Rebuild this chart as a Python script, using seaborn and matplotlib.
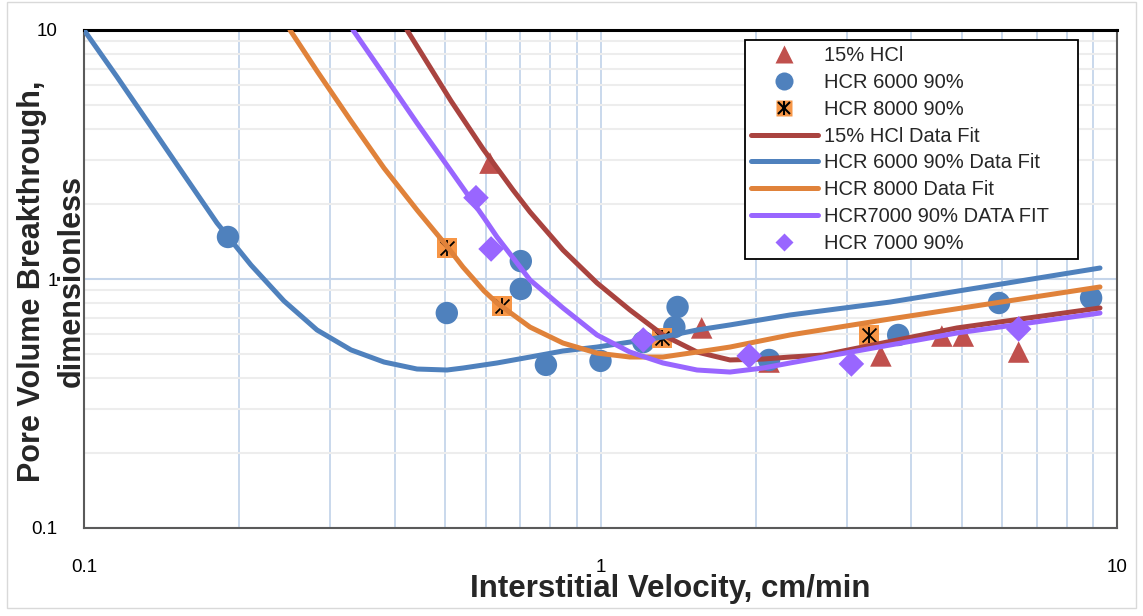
import numpy as np
import pandas as pd
import matplotlib
matplotlib.use("Agg")
import matplotlib.pyplot as plt
import seaborn as sns
from matplotlib.lines import Line2D
from matplotlib.patches import Rectangle
from matplotlib.ticker import FixedLocator, FixedFormatter, LogLocator, NullFormatter

sns.set_theme(style="white")
plt.rcParams['font.family'] = ['Liberation Sans', 'DejaVu Sans']

# ---------------- data ----------------
hcl_x = [0.611, 1.57, 2.12, 3.49, 4.58, 5.04, 6.45]
hcl_y = [2.92, 0.636, 0.464, 0.491, 0.590, 0.590, 0.509]

hcr6000_x = [0.190, 0.504, 0.701, 0.701, 0.784, 1.0, 1.21, 1.39, 1.41, 2.12, 3.77, 5.91, 8.91]
hcr6000_y = [1.475, 0.730, 1.18, 0.912, 0.452, 0.469, 0.558, 0.641, 0.772, 0.473, 0.596, 0.801, 0.839]

hcr8000_x = [0.504, 0.644, 1.316, 3.31]
hcr8000_y = [1.33, 0.779, 0.579, 0.596]

hcr7000_x = [0.574, 0.614, 1.21, 1.94, 3.06, 6.45]
hcr7000_y = [2.12, 1.32, 0.569, 0.491, 0.456, 0.630]

# fitted curves
fit_hcl_x = [0.422, 0.5135, 0.5926, 0.6770, 0.7304, 0.8461, 0.9845, 1.140, 1.321, 1.538, 1.781,
             2.064, 2.328, 2.697, 4.90, 9.27]
fit_hcl_y = [10.0, 5.19, 3.327, 2.278, 1.858, 1.307, 0.964, 0.751, 0.596, 0.509, 0.473,
             0.477, 0.486, 0.495, 0.636, 0.765]

fit_6000_x = [0.1, 0.1159, 0.1348, 0.1562, 0.1809, 0.2105, 0.2439, 0.2826, 0.3288, 0.3809, 0.4413,
              0.5045, 0.5416, 0.6304, 0.7304, 0.8461, 0.9845, 1.140, 1.321, 1.538, 1.781, 2.328,
              3.636, 9.27]
fit_6000_y = [10.0, 6.475, 4.097, 2.617, 1.679, 1.138, 0.816, 0.624, 0.519, 0.464, 0.435,
              0.431, 0.439, 0.460, 0.486, 0.514, 0.533, 0.558, 0.585, 0.624, 0.654, 0.717,
              0.808, 1.107]

fit_8000_x = [0.2505, 0.2826, 0.3288, 0.3809, 0.4413, 0.5022, 0.5416, 0.5952, 0.6304,
              0.7304, 0.8461, 0.9845, 1.140, 1.321, 1.538, 1.781, 2.328, 3.636, 9.27]
fit_8000_y = [10.0, 6.84, 4.31, 2.79, 1.893, 1.369, 1.117, 0.895, 0.801,
              0.641, 0.553, 0.504, 0.486, 0.486, 0.509, 0.533, 0.596, 0.691, 0.929]

fit_7000_x = [0.3317, 0.3809, 0.4413, 0.5135, 0.5952, 0.6304, 0.7304, 0.8461, 0.9845, 1.140,
              1.321, 1.538, 1.781, 2.064, 2.328, 2.697, 4.90, 9.27]
fit_7000_y = [10.0, 6.60, 4.23, 2.715, 1.758, 1.475, 0.991, 0.765, 0.596, 0.509,
              0.460, 0.431, 0.423, 0.439, 0.460, 0.486, 0.607, 0.730]

labels = ["15% HCl", "HCR 6000 90%", "HCR 8000 90%", "15% HCl Data Fit",
          "HCR 6000 90% Data Fit", "HCR 8000 Data Fit", "HCR7000 90% DATA FIT", "HCR 7000 90%"]

# ---------------- style ----------------
c_tri = "#C0504D"
c_circ = "#4F81BD"
c_sq = "#F79646"
c_red_line = "#A9433F"
c_blue_line = "#4F81BD"
c_orange_line = "#E0823A"
c_purple = "#9966FF"
lw = 3.6

fig = plt.figure(figsize=(11.43, 6.16), dpi=100)
ax = fig.add_axes([84/1143, 1-528/616, (1117-84)/1143, (528-30)/616])
ax.set_xscale('log')
ax.set_yscale('log')
ax.set_xlim(0.1, 10)
ax.set_ylim(0.1, 10)

# markers first
sns.scatterplot(x=hcl_x, y=hcl_y, marker='^', s=240, color=c_tri, edgecolor='none', ax=ax, zorder=3)
sns.scatterplot(x=hcr6000_x, y=hcr6000_y, marker='o', s=260, color=c_circ, edgecolor='none', ax=ax, zorder=3)
sns.scatterplot(x=hcr8000_x, y=hcr8000_y, marker='s', s=200, color=c_sq, edgecolor='none', ax=ax, zorder=3)
sns.scatterplot(x=hcr8000_x, y=hcr8000_y, marker='x', s=100, color='black', linewidth=1.3, ax=ax, zorder=3.1)
sns.scatterplot(x=hcr8000_x, y=hcr8000_y, marker='|', s=130, color='black', linewidth=1.3, ax=ax, zorder=3.1)

# fit lines
for fx, fy, col in [(fit_hcl_x, fit_hcl_y, c_red_line), (fit_6000_x, fit_6000_y, c_blue_line),
                    (fit_8000_x, fit_8000_y, c_orange_line), (fit_7000_x, fit_7000_y, c_purple)]:
    df = pd.DataFrame({"x": fx, "y": fy})
    sns.lineplot(data=df, x="x", y="y", sort=False, estimator=None, color=col, lw=lw,
                 ax=ax, zorder=4, solid_capstyle='round', solid_joinstyle='round')

sns.scatterplot(x=hcr7000_x, y=hcr7000_y, marker='D', s=170, color=c_purple, edgecolor='none', ax=ax, zorder=5)

# ticks / grid
ax.xaxis.set_major_locator(FixedLocator([0.1, 1, 10]))
ax.xaxis.set_major_formatter(FixedFormatter(["0.1", "1", "10"]))
ax.yaxis.set_major_locator(FixedLocator([0.1, 1, 10]))
ax.yaxis.set_major_formatter(FixedFormatter(["0.1", "1", "10"]))
ax.xaxis.set_minor_locator(LogLocator(base=10, subs=np.arange(2, 10)))
ax.yaxis.set_minor_locator(LogLocator(base=10, subs=np.arange(2, 10)))
ax.xaxis.set_minor_formatter(NullFormatter())
ax.yaxis.set_minor_formatter(NullFormatter())
ax.tick_params(axis='both', which='both', length=0, labelsize=13.5, colors='black')
ax.tick_params(axis='x', pad=22)
ax.tick_params(axis='y', pad=19)
ax.set_axisbelow(True)
ax.grid(True, which='both', axis='x', color='#C5D5EA', lw=1.3)
ax.grid(True, which='major', axis='y', color='#C5D5EA', lw=1.5)
ax.grid(True, which='minor', axis='y', color='#EDEDED', lw=1.5)

for side in ['left', 'bottom', 'right']:
    ax.spines[side].set_color('#5A5A5A')
    ax.spines[side].set_linewidth(1.5)
ax.spines['top'].set_color('black')
ax.spines['top'].set_linewidth(2.2)

ax.set_xlabel("Interstitial Velocity, cm/min", fontsize=22.5, fontweight='bold')
ax.xaxis.set_label_coords((670-84)/1033, -0.092)
ax.set_ylabel("Pore Volume Breakthrough,\ndimensionless", fontsize=22, fontweight='bold',
              linespacing=1.45, va='center', ha='center')
ax.yaxis.set_label_coords((52-84)/1033, 0.495)

# legend
h_tri = Line2D([], [], marker='^', color=c_tri, ls='none', ms=13, mec='none')
h_circ = Line2D([], [], marker='o', color=c_circ, ls='none', ms=13, mec='none')
h_sq = (Line2D([], [], marker='s', color=c_sq, ls='none', ms=12, mec='none'),
        Line2D([], [], marker='x', color='black', ls='none', ms=8.5, mew=1.5),
        Line2D([], [], marker='|', color='black', ls='none', ms=10, mew=1.5))
h_l1 = Line2D([], [], color=c_red_line, lw=lw, solid_capstyle='round')
h_l2 = Line2D([], [], color=c_blue_line, lw=lw, solid_capstyle='round')
h_l3 = Line2D([], [], color=c_orange_line, lw=lw, solid_capstyle='round')
h_l4 = Line2D([], [], color=c_purple, lw=lw, solid_capstyle='round')
h_dia = Line2D([], [], marker='D', color=c_purple, ls='none', ms=9.5, mec='none')
leg = ax.legend([h_tri, h_circ, h_sq, h_l1, h_l2, h_l3, h_l4, h_dia], labels,
                loc='upper left', bbox_to_anchor=(0.640, 0.548, 0.322, 0.432), mode='expand',
                borderaxespad=0,
                fontsize=14.5, frameon=True, fancybox=False, framealpha=1,
                edgecolor='black', handlelength=3.3, handletextpad=0.3,
                labelspacing=0.39, borderpad=0.3)
leg.get_frame().set_linewidth(1.3)
leg.set_zorder(10)

# outer chart border
fig.patches.append(Rectangle((7/1143, 8/616), 1 - 14/1143, 1 - 10/616, transform=fig.transFigure,
                             fill=False, edgecolor='#D9D9D9', lw=1.0))

fig.savefig("out.png", dpi=100)
